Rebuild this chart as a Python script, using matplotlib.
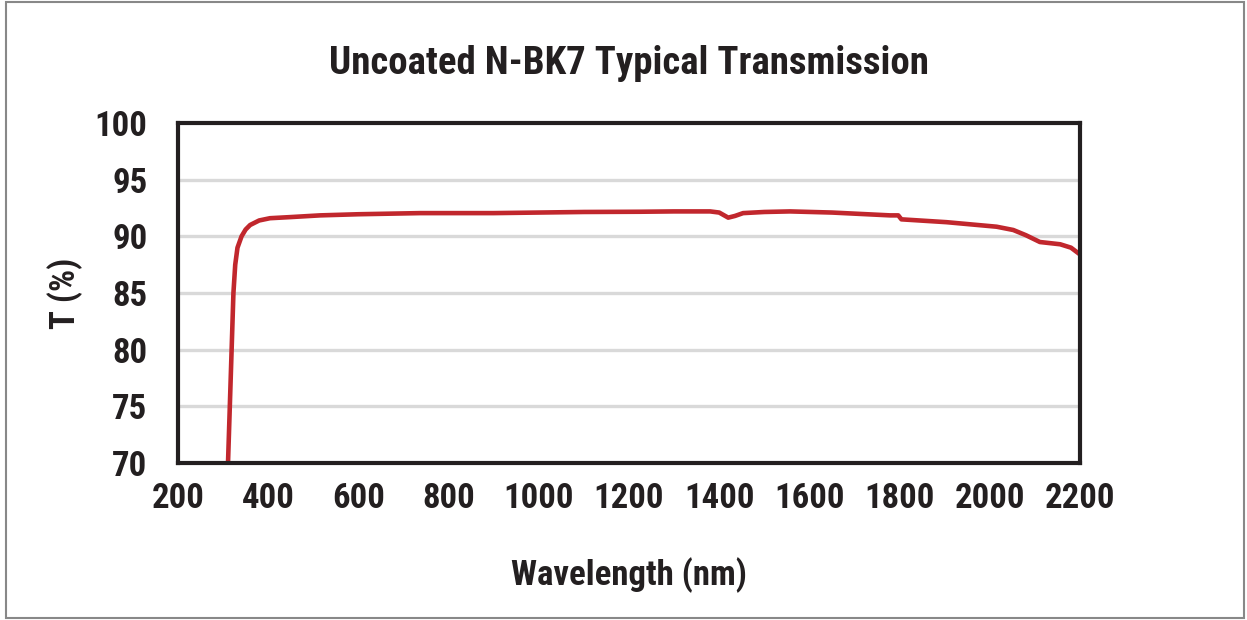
import matplotlib
matplotlib.use('Agg')
from matplotlib import pyplot as plt
from matplotlib import font_manager
from matplotlib.patches import Rectangle

# N-BK7 uncoated transmission
wavelength = [311, 315, 319, 323, 327, 332, 341, 350, 360, 380, 404, 450, 515, 600,
              737, 900, 1000, 1100, 1224, 1300, 1380, 1400, 1420, 1435, 1453, 1500,
              1557, 1650, 1779, 1797, 1804, 1904, 2015, 2052, 2080, 2111, 2156, 2180, 2200]
transmission = [70.0, 75.0, 80.0, 85.0, 87.5, 89.0, 90.0, 90.6, 91.0, 91.4, 91.6, 91.7, 91.85, 91.95,
                92.05, 92.05, 92.1, 92.15, 92.17, 92.2, 92.2, 92.1, 91.65, 91.8, 92.05, 92.15,
                92.2, 92.1, 91.85, 91.85, 91.5, 91.25, 90.85, 90.56, 90.1, 89.5, 89.3, 89.0, 88.4]
xticks = list(range(200, 2201, 200))
yticks = list(range(70, 101, 5))

# pick a narrow bold face if one is around
installed = {f.name for f in font_manager.fontManager.ttflist}
narrow = [f for f in ['Roboto Condensed', 'Liberation Sans Narrow', 'Open Sans Condensed']
          if f in installed]
condensed = False
if narrow:
    family = narrow[0]
    condensed = True
else:
    family = 'DejaVu Sans'
    path = font_manager.findfont(font_manager.FontProperties(
        family='DejaVu Sans', weight='bold', stretch='condensed'))
    condensed = 'ondensed' in path
plt.rcParams['font.family'] = [family, 'DejaVu Sans']
plt.rcParams['font.weight'] = 'bold'
plt.rcParams['font.stretch'] = 'condensed'

scale = 1.0 if condensed else 0.8
ink = '#231f20'

fig = plt.figure(figsize=(12.47, 6.2), dpi=100)
ax = fig.add_axes([0.1427, 0.2532, 0.8661 - 0.1427, 0.8016 - 0.2532])

for y in yticks[1:-1]:
    ax.axhline(y, color='#d9d9d9', lw=2.4, zorder=1)
ax.plot(wavelength, transmission, color='#c1272d', lw=3.3, zorder=3, solid_joinstyle='round')

ax.set_xlim(200, 2200)
ax.set_ylim(70, 100)
ax.set_xticks(xticks)
ax.set_yticks(yticks)
ax.tick_params(axis='both', length=0, labelsize=25 * scale, colors=ink)
ax.tick_params(axis='x', pad=14)
ax.tick_params(axis='y', pad=22)
for s in ax.spines.values():
    s.set_linewidth(3)
    s.set_color(ink)
    s.set_zorder(4)

ax.set_title('Uncoated N-BK7 Typical Transmission', fontsize=28 * scale, fontweight='bold',
             color=ink, y=1.15, va='center')
ax.set_xlabel('Wavelength (nm)', fontsize=25 * scale, fontweight='bold', color=ink)
ax.set_ylabel('T (%)', fontsize=25 * scale, fontweight='bold', color=ink)
ax.xaxis.set_label_coords(0.5, -0.329)
ax.yaxis.set_label_coords(-0.125, 0.5)
ax.xaxis.label.set_va('center')
ax.yaxis.label.set_va('center')

fig.patches.append(Rectangle((6 / 1247, 2 / 620), 1238 / 1247, 616 / 620, transform=fig.transFigure,
                             fill=False, edgecolor='#888888', lw=1.5))

fig.savefig('out.png', dpi=100)
